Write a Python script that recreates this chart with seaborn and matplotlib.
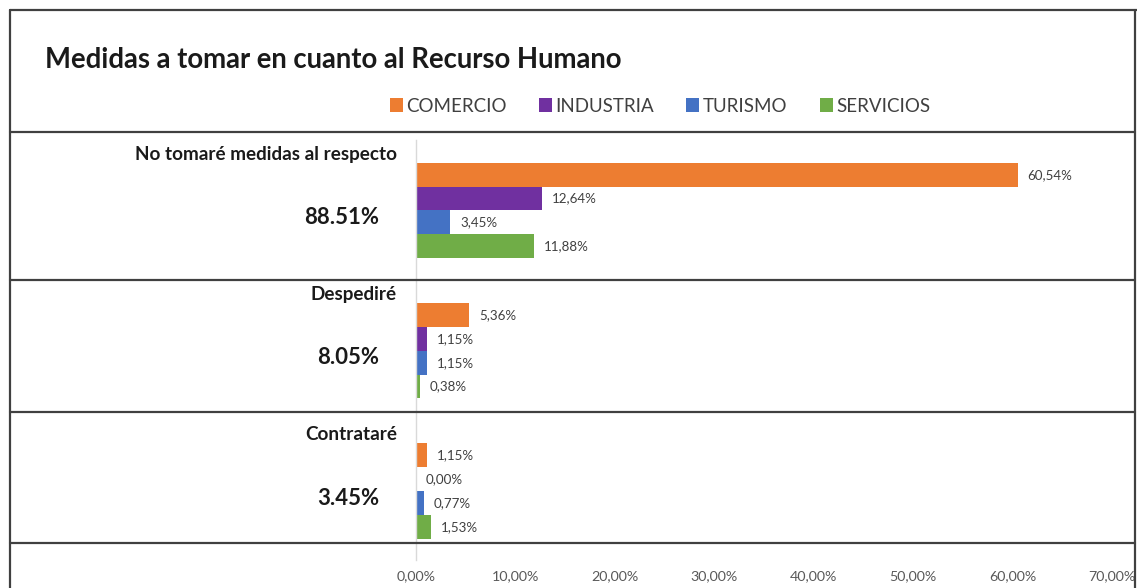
import numpy as np
import pandas as pd
import matplotlib
matplotlib.use("Agg")
import matplotlib.pyplot as plt
import matplotlib.transforms as mtransforms
from matplotlib.lines import Line2D
import seaborn as sns

# Data
medidas = ["No tomaré medidas al respecto", "Despediré", "Contrataré"]
sectores = ["COMERCIO", "INDUSTRIA", "TURISMO", "SERVICIOS"]
comercio = [60.54, 5.36, 1.15]
industria = [12.64, 1.15, 0.00]
turismo = [3.45, 1.15, 0.77]
servicios = [11.88, 0.38, 1.53]
totales = ["88.51%", "8.05%", "3.45%"]
ticks = [0, 10, 20, 30, 40, 50, 60, 70]

colores = ["#ED7D31", "#7030A0", "#4472C4", "#70AD47"]

df = pd.DataFrame({
    "medida": medidas * 4,
    "sector": np.repeat(sectores, len(medidas)),
    "valor": comercio + industria + turismo + servicios,
})

sns.set_theme(style="white")
plt.rcParams["font.family"] = ["Lato", "DejaVu Sans"]

W, H = 1137, 588
fig = plt.figure(figsize=(W / 100, H / 100), dpi=100)
fig.patch.set_facecolor("white")

# axes placed in pixel terms of the reference
ax_left, ax_right, ax_top, ax_bot = 416, 1112, 140, 560
ax = fig.add_axes([ax_left / W, 1 - ax_bot / H, (ax_right - ax_left) / W, (ax_bot - ax_top) / H])

sns.barplot(data=df, y="medida", x="valor", hue="sector", palette=colores,
            orient="h", width=0.68, linewidth=0, saturation=1, ax=ax)

# y mapping: category centers at 210.5, 350.5, 491 px
step = 140.25
ax.set_ylim((ax_bot - 210.5) / step, (ax_top - 210.5) / step)
ax.set_xlim(0, 70)
ax.set_xticks(ticks)
ax.set_xticklabels([f"{t:.2f}%".replace(".", ",") for t in ticks], fontsize=10.3, color="#595959")
ax.tick_params(axis="x", length=0, pad=7)
ax.set_yticks([])
ax.set_xlabel("")
ax.set_ylabel("")
for s in ["top", "right", "bottom"]:
    ax.spines[s].set_visible(False)
ax.spines["left"].set_color("#d9d9d9")
ax.spines["left"].set_linewidth(1)
ax.patch.set_alpha(0)

# data labels
for cont in ax.containers:
    vals = [b.get_width() for b in cont]
    ax.bar_label(cont, labels=[f"{v:.2f}%".replace(".", ",") for v in vals],
                 padding=7, fontsize=9.6, color="#404040")

# legend above the chart
handles, labels = ax.get_legend_handles_labels()
if ax.get_legend() is not None:
    ax.get_legend().remove()
fig.legend(handles, labels, loc="center", bbox_to_anchor=(660 / W, 1 - 106 / H), ncol=4,
           frameon=False, fontsize=13.5, handlelength=0.7, handleheight=0.7,
           handletextpad=0.2, columnspacing=1.7, labelcolor="#404040")

# category names and totals to the left
trans = mtransforms.blended_transform_factory(fig.transFigure, ax.transData)
for i, (m, t) in enumerate(zip(medidas, totales)):
    ax.text(397 / W, i - 0.40, m, transform=trans, ha="right", va="center",
            fontsize=13.6, fontweight="bold", color="#1a1a1a", clip_on=False)
    ax.text(379 / W, i + 0.05, t, transform=trans, ha="right", va="center",
            fontsize=15.9, fontweight="bold", color="#1a1a1a", clip_on=False)

fig.text(45 / W, 1 - 60 / H, "Medidas a tomar en cuanto al Recurso Humano",
         ha="left", va="center", fontsize=19.8, fontweight="bold", color="#1a1a1a")

# frame and separator lines of the table
frame_kw = dict(color="#404040", lw=1.6, transform=fig.transFigure)
fig.add_artist(Line2D([10 / W, 1], [1 - 10 / H, 1 - 10 / H], **frame_kw))
fig.add_artist(Line2D([10 / W, 10 / W], [1 - 10 / H, 0], **frame_kw))
fig.add_artist(Line2D([1135 / W, 1135 / W], [1 - 10 / H, 0], **frame_kw))
for ypx in [132, 280, 411.5, 542.5]:
    fig.add_artist(Line2D([10 / W, 1135 / W], [1 - ypx / H, 1 - ypx / H], **frame_kw))

fig.savefig("out.png", dpi=100, facecolor="white")
